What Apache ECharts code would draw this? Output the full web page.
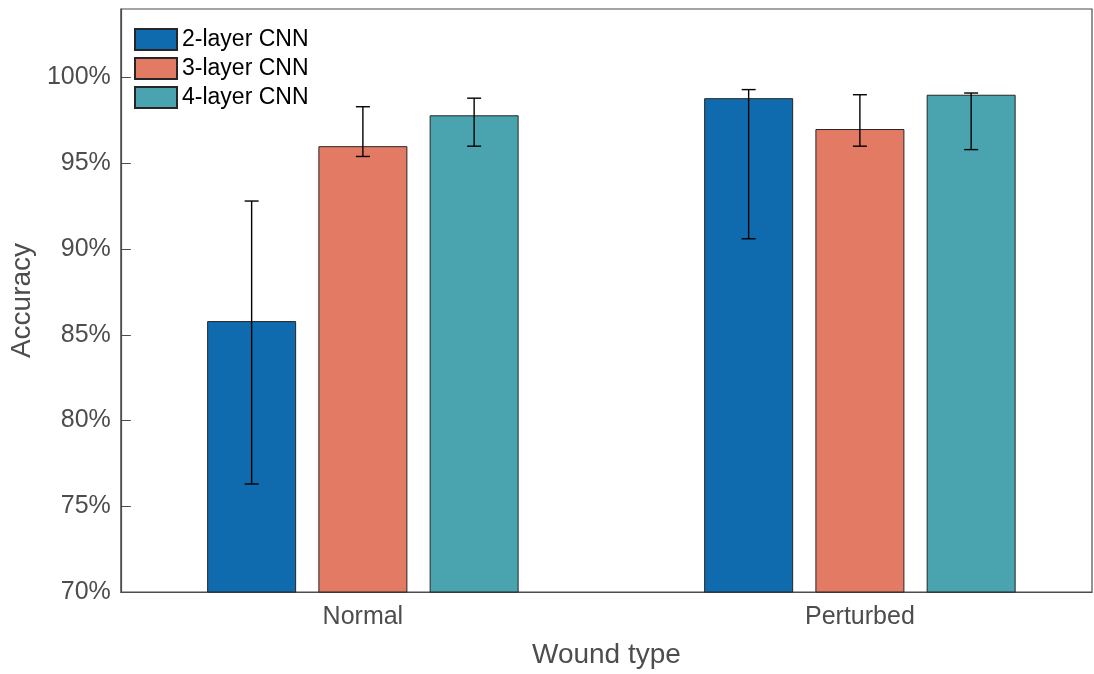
<!DOCTYPE html>
<html>
<head>
<meta charset="utf-8">
<script src="https://cdn.jsdelivr.net/npm/echarts@6/dist/echarts.min.js"></script>
<style>
  html, body { margin: 0; padding: 0; background: #fff; }
  #chart { width: 1094px; height: 674px; }
</style>
</head>
<body>
<div id="chart"></div>
<script>
// data
const categories = ['Normal', 'Perturbed'];
const seriesNames = ['2-layer CNN', '3-layer CNN', '4-layer CNN'];
const acc2 = [85.8, 98.8];
const acc3 = [96.0, 97.0];
const acc4 = [97.8, 99.0];
const low2 = [76.3, 90.6];
const high2 = [92.8, 99.3];
const low3 = [95.4, 96.0];
const high3 = [98.3, 99.0];
const low4 = [96.0, 95.8];
const high4 = [98.8, 99.1];
const yTicks = [70, 75, 80, 85, 90, 95, 100];

const colors = ['#0f6bae', '#e27a64', '#4aa4af'];
const barWidth = 89;
const barGap = 0.25;
const font = 'Liberation Sans, Arial, sans-serif';
const textGray = '#4d4d4d';

const chart = echarts.init(document.getElementById('chart'));

const means = [acc2, acc3, acc4];
const lows = [low2, low3, low4];
const highs = [high2, high3, high4];

// categories sit at x = 1, 2 on a value axis (matlab-style off-centre limits)
const xPos = categories.map((c, i) => i + 1);

const barSeries = seriesNames.map((name, s) => ({
  name: name,
  type: 'bar',
  barWidth: barWidth,
  barGap: (barGap * 100) + '%',
  itemStyle: { color: colors[s], borderColor: '#262626', borderWidth: 1 },
  data: xPos.map((x, i) => [x, means[s][i]])
}));

// error bars drawn next to each bar (offset follows barWidth / barGap)
const errSeries = seriesNames.map((name, s) => ({
  type: 'custom',
  z: 10,
  silent: true,
  encode: { x: 0, y: [1, 2] },
  data: xPos.map((x, i) => [x, lows[s][i], highs[s][i]]),
  renderItem: function (params, api) {
    const off = (s - 1) * barWidth * (1 + barGap);
    const lo = api.coord([api.value(0), api.value(1)]);
    const hi = api.coord([api.value(0), api.value(2)]);
    const cx = lo[0] + off;
    const cap = 7;
    const style = { stroke: '#000', lineWidth: 1.4 };
    return {
      type: 'group',
      children: [
        { type: 'line', shape: { x1: cx, y1: lo[1], x2: cx, y2: hi[1] }, style: style },
        { type: 'line', shape: { x1: cx - cap, y1: lo[1], x2: cx + cap, y2: lo[1] }, style: style },
        { type: 'line', shape: { x1: cx - cap, y1: hi[1], x2: cx + cap, y2: hi[1] }, style: style }
      ]
    };
  }
}));

chart.setOption({
  animation: false,
  textStyle: { fontFamily: font },
  grid: {
    left: 117, right: 2, top: 9, bottom: 77,
    show: true, borderColor: '#4d4d4d', borderWidth: 1.2
  },
  legend: {
    data: seriesNames,
    orient: 'vertical',
    left: 134,
    top: 28,
    padding: 0,
    itemWidth: 42,
    itemHeight: 21,
    itemGap: 6,
    icon: 'rect',
    textStyle: { color: '#000', fontSize: 23, fontFamily: font }
  },
  xAxis: {
    type: 'value',
    min: 0.513,
    max: 2.467,
    name: 'Wound type',
    nameLocation: 'middle',
    nameGap: 49,
    nameTextStyle: { color: textGray, fontSize: 28, fontFamily: font },
    axisLine: { show: true, lineStyle: { color: '#4d4d4d', width: 1.2 } },
    axisTick: { show: true, inside: true, length: 10, customValues: xPos, lineStyle: { color: '#4d4d4d' } },
    axisLabel: {
      customValues: xPos,
      color: textGray, fontSize: 25, margin: 13,
      formatter: v => categories[Math.round(v) - 1]
    },
    splitLine: { show: false }
  },
  yAxis: {
    type: 'value',
    min: 70,
    max: 104,
    name: 'Accuracy',
    nameLocation: 'middle',
    nameGap: 84,
    nameTextStyle: { color: textGray, fontSize: 28, fontFamily: font },
    axisLine: { show: true, lineStyle: { color: '#4d4d4d', width: 1.2 } },
    axisTick: { show: true, inside: true, length: 10, customValues: yTicks, lineStyle: { color: '#4d4d4d' } },
    axisLabel: {
      customValues: yTicks,
      color: textGray, fontSize: 25, margin: 10,
      formatter: v => v + '%'
    },
    splitLine: { show: false }
  },
  series: barSeries.concat(errSeries)
});
</script>
</body>
</html>
